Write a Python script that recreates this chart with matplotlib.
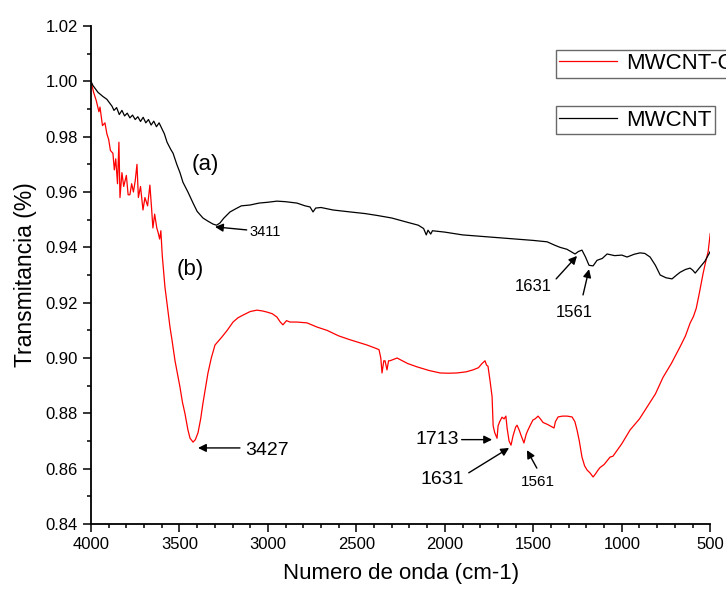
import matplotlib
matplotlib.use('Agg')
import matplotlib.pyplot as plt
from matplotlib.ticker import MultipleLocator

plt.rcParams['font.family'] = 'Liberation Sans'

# MWCNT (a)
wn_a = [4000, 3989, 3960, 3932, 3910, 3881, 3870, 3855, 3840, 3825, 3810, 3795, 3780, 3765,
        3750, 3735, 3720, 3705, 3690, 3675, 3660, 3645, 3630, 3615, 3600, 3585, 3570, 3550,
        3536, 3515, 3497, 3480, 3452, 3423, 3400, 3367, 3340, 3310, 3290, 3271, 3250, 3214,
        3180, 3150, 3101, 3050, 3000, 2949, 2900, 2836, 2790, 2762, 2745, 2730, 2700, 2632,
        2536, 2450, 2380, 2300, 2220, 2150, 2120, 2105, 2095, 2080, 2070, 2000, 1900, 1800,
        1700, 1600, 1500, 1422, 1380, 1349, 1310, 1264, 1245, 1225, 1205, 1185, 1162, 1140,
        1110, 1083, 1040, 1000, 970, 930, 897, 870, 840, 810, 783, 750, 716, 690, 670, 640,
        614, 600, 585, 557, 530, 500]
t_a = [1.000, 0.9985, 0.996, 0.9945, 0.9935, 0.991, 0.9895, 0.9905, 0.988, 0.9895, 0.9875,
       0.9885, 0.9868, 0.9878, 0.9862, 0.9872, 0.9855, 0.987, 0.985, 0.9862, 0.9842, 0.9856,
       0.9836, 0.985, 0.983, 0.981, 0.978, 0.9755, 0.974, 0.970, 0.967, 0.9635, 0.960, 0.956,
       0.953, 0.9506, 0.9495, 0.9484, 0.948, 0.9488, 0.9505, 0.9528, 0.954, 0.955, 0.9553,
       0.956, 0.9563, 0.9567, 0.9565, 0.956, 0.955, 0.9546, 0.9528, 0.9542, 0.9544, 0.9535,
       0.9528, 0.9522, 0.9515, 0.9506, 0.9492, 0.948, 0.9468, 0.9445, 0.9462, 0.9448, 0.946,
       0.9455, 0.9445, 0.944, 0.9435, 0.943, 0.9425, 0.942, 0.9408, 0.940, 0.9393, 0.9376,
       0.9385, 0.939, 0.9365, 0.9335, 0.9333, 0.9353, 0.936, 0.9376, 0.937, 0.9372, 0.9365,
       0.9375, 0.938, 0.9378, 0.9365, 0.9335, 0.930, 0.929, 0.9286, 0.930, 0.931, 0.932,
       0.9325, 0.9318, 0.9307, 0.9329, 0.935, 0.9385]

# MWCNT-COOH (b)
wn_b = [4000, 3985, 3970, 3955, 3949, 3935, 3921, 3910, 3900, 3890, 3876, 3868, 3860, 3850,
        3842, 3836, 3825, 3815, 3800, 3790, 3780, 3770, 3760, 3750, 3740, 3732, 3720, 3706,
        3695, 3680, 3667, 3658, 3650, 3640, 3628, 3621, 3612, 3605, 3597, 3582, 3565, 3553,
        3542, 3525, 3510, 3497, 3483, 3469, 3452, 3440, 3423, 3410, 3395, 3380, 3367, 3339,
        3320, 3299, 3260, 3230, 3197, 3170, 3141, 3100, 3062, 3030, 3005, 2975, 2949, 2930,
        2915, 2895, 2875, 2836, 2800, 2779, 2723, 2666, 2600, 2536, 2480, 2440, 2390, 2372,
        2362, 2355, 2345, 2338, 2327, 2318, 2310, 2270, 2210, 2157, 2090, 2027, 1980, 1931,
        1880, 1841, 1810, 1790, 1773, 1765, 1756, 1745, 1733, 1727, 1718, 1705, 1699, 1690,
        1677, 1665, 1655, 1648, 1637, 1626, 1614, 1600, 1592, 1580, 1569, 1553, 1540, 1530,
        1515, 1502, 1490, 1473, 1460, 1445, 1420, 1383, 1375, 1360, 1335, 1309, 1281, 1265,
        1253, 1240, 1225, 1210, 1196, 1180, 1162, 1150, 1134, 1123, 1100, 1066, 1050, 1000,
        953, 900, 857, 810, 767, 720, 671, 640, 614, 595, 579, 560, 540, 525, 512, 500]
t_b = [1.000, 0.996, 0.993, 0.989, 0.9907, 0.984, 0.985, 0.981, 0.979, 0.975, 0.974, 0.968,
       0.972, 0.963, 0.978, 0.958, 0.967, 0.962, 0.966, 0.959, 0.959, 0.963, 0.960, 0.964,
       0.970, 0.958, 0.962, 0.9535, 0.958, 0.955, 0.9625, 0.9546, 0.947, 0.952, 0.947, 0.9455,
       0.943, 0.946, 0.937, 0.9257, 0.917, 0.911, 0.9065, 0.899, 0.894, 0.8895, 0.884, 0.880,
       0.874, 0.871, 0.8696, 0.8705, 0.873, 0.878, 0.8837, 0.8945, 0.900, 0.9047, 0.9076,
       0.910, 0.913, 0.9145, 0.9155, 0.9168, 0.9173, 0.917, 0.9166, 0.916, 0.9148, 0.913,
       0.912, 0.9135, 0.913, 0.913, 0.9128, 0.9127, 0.9112, 0.910, 0.908, 0.9066, 0.9055,
       0.9047, 0.9035, 0.903, 0.900, 0.8946, 0.899, 0.899, 0.8957, 0.899, 0.899, 0.900, 0.898,
       0.8968, 0.8955, 0.8946, 0.8945, 0.8946, 0.895, 0.8957, 0.8965, 0.898, 0.899, 0.8975,
       0.897, 0.892, 0.886, 0.8755, 0.873, 0.871, 0.8755, 0.877, 0.8786, 0.878, 0.879, 0.8746,
       0.870, 0.8685, 0.872, 0.875, 0.8757, 0.874, 0.872, 0.8693, 0.8725, 0.874, 0.876,
       0.8776, 0.878, 0.879, 0.878, 0.8767, 0.876, 0.8747, 0.877, 0.8787, 0.879, 0.879,
       0.8787, 0.877, 0.874, 0.870, 0.8642, 0.861, 0.8595, 0.8585, 0.857, 0.858, 0.8595,
       0.8604, 0.8615, 0.8642, 0.8645, 0.869, 0.874, 0.878, 0.8823, 0.887, 0.893, 0.898,
       0.904, 0.908, 0.9126, 0.915, 0.918, 0.924, 0.9307, 0.935, 0.9384, 0.945]

fig = plt.figure(figsize=(7.26, 5.95), dpi=100)
ax = fig.add_axes([0.1253, 0.1193, 0.853, 0.837])

line_b, = ax.plot(wn_b, t_b, color='#ff0000', lw=0.9)
line_a, = ax.plot(wn_a, t_a, color='black', lw=0.9)

ax.set_xlim(4000, 500)
ax.set_ylim(0.84, 1.02)
ax.xaxis.set_major_locator(MultipleLocator(500))
ax.xaxis.set_minor_locator(MultipleLocator(100))
ax.yaxis.set_major_locator(MultipleLocator(0.02))
ax.yaxis.set_minor_locator(MultipleLocator(0.01))
ax.yaxis.set_major_formatter(plt.FormatStrFormatter('%.2f'))
ax.tick_params(which='major', direction='out', length=6, width=1.1, labelsize=12)
ax.tick_params(which='minor', direction='out', length=3, width=1.1)
ax.spines['top'].set_visible(False)
ax.spines['right'].set_visible(False)
for s in ('left', 'bottom'):
    ax.spines[s].set_linewidth(1.3)

ax.set_xlabel('Numero de onda (cm-1)', fontsize=16, labelpad=8)
ax.set_ylabel('Transmitancia (%)', fontsize=16.5, labelpad=6)

# legends (two separate boxes)
leg1 = ax.legend([line_b], ['MWCNT-COOH'], loc='upper left', bbox_to_anchor=(0.751, 0.952),
                 fontsize=16, frameon=True, fancybox=False, edgecolor='#444444',
                 handlelength=2.6, handletextpad=0.4, borderpad=0.15, borderaxespad=0)
leg1.get_frame().set_linewidth(1.0)
ax.add_artist(leg1)
leg2 = ax.legend([line_a], ['MWCNT'], loc='upper left', bbox_to_anchor=(0.751, 0.839),
                 fontsize=16, frameon=True, fancybox=False, edgecolor='#444444',
                 handlelength=2.6, handletextpad=0.4, borderpad=0.15, borderaxespad=0)
leg2.get_frame().set_linewidth(1.0)

# labels
ax.text(3356, 0.9698, '(a)', fontsize=16, ha='center', va='center')
ax.text(3440, 0.932, '(b)', fontsize=16, ha='center', va='center')

arrow = dict(arrowstyle='-|>', color='black', lw=1.0, mutation_scale=12, shrinkA=0, shrinkB=0)

ax.annotate('', xy=(3299, 0.9474), xytext=(3120, 0.9463), arrowprops=arrow)
ax.text(3016, 0.9455, '3411', fontsize=10.5, ha='center', va='center')

ax.annotate('', xy=(3395, 0.8675), xytext=(3158, 0.8675), arrowprops=arrow)
ax.text(3005, 0.8667, '3427', fontsize=14, ha='center', va='center')

ax.annotate('', xy=(1733, 0.8705), xytext=(1905, 0.8705), arrowprops=arrow)
ax.text(2044, 0.8705, '1713', fontsize=14, ha='center', va='center')

ax.annotate('', xy=(1637, 0.8675), xytext=(1865, 0.8585), arrowprops=arrow)
ax.text(2016, 0.856, '1631', fontsize=14, ha='center', va='center')

ax.annotate('', xy=(1536, 0.8667), xytext=(1480, 0.8602), arrowprops=arrow)
ax.text(1473, 0.8552, '1561', fontsize=11, ha='center', va='center')

ax.annotate('', xy=(1253, 0.9369), xytext=(1371, 0.9286), arrowprops=arrow)
ax.text(1501, 0.926, '1631', fontsize=12, ha='center', va='center')

ax.annotate('', xy=(1185, 0.9321), xytext=(1219, 0.9228), arrowprops=arrow)
ax.text(1270, 0.9166, '1561', fontsize=12, ha='center', va='center')

fig.savefig('out.png', dpi=100)
